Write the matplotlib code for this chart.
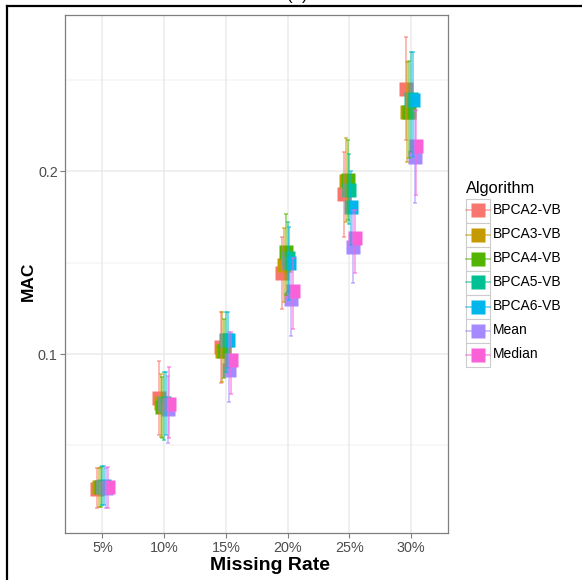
import matplotlib
matplotlib.use("Agg")
import matplotlib.pyplot as plt
from matplotlib.patches import Rectangle
from matplotlib.lines import Line2D
import numpy as np

plt.rcParams['font.family'] = ['Liberation Sans', 'DejaVu Sans']

rates = ["5%", "10%", "15%", "20%", "25%", "30%"]
algorithms = ["BPCA2-VB", "BPCA3-VB", "BPCA4-VB", "BPCA5-VB", "BPCA6-VB", "Mean", "Median"]
colors = ["#F8766D", "#C49A00", "#53B400", "#00C094", "#00B6EB", "#A58AFF", "#FB61D7"]

mac_bpca2 = [0.0259, 0.0761, 0.1037, 0.1444, 0.1875, 0.2453]
low_bpca2 = [0.0155, 0.0556, 0.0840, 0.1246, 0.1642, 0.2174]
high_bpca2 = [0.0374, 0.0962, 0.1232, 0.1642, 0.2105, 0.2734]

mac_bpca3 = [0.0273, 0.0730, 0.1016, 0.1486, 0.1950, 0.2327]
low_bpca3 = [0.0164, 0.0544, 0.0848, 0.1286, 0.1725, 0.2053]
high_bpca3 = [0.0377, 0.0890, 0.1228, 0.1688, 0.2181, 0.2597]

mac_bpca4 = [0.0273, 0.0711, 0.1016, 0.1558, 0.1953, 0.2325]
low_bpca4 = [0.0164, 0.0538, 0.0867, 0.1323, 0.1734, 0.2072]
high_bpca4 = [0.0383, 0.0872, 0.1192, 0.1765, 0.2172, 0.2605]

mac_bpca5 = [0.0273, 0.0730, 0.1077, 0.1526, 0.1898, 0.2396]
low_bpca5 = [0.0173, 0.0529, 0.0903, 0.1340, 0.1712, 0.2108]
high_bpca5 = [0.0387, 0.0903, 0.1228, 0.1721, 0.2095, 0.2656]

mac_bpca6 = [0.0275, 0.0721, 0.1078, 0.1498, 0.1805, 0.2394]
low_bpca6 = [0.0173, 0.0556, 0.0922, 0.1296, 0.1597, 0.2081]
high_bpca6 = [0.0387, 0.0903, 0.1228, 0.1694, 0.2004, 0.2656]

mac_mean = [0.0265, 0.0697, 0.0912, 0.1301, 0.1586, 0.2077]
low_mean = [0.0155, 0.0514, 0.0739, 0.1099, 0.1387, 0.1825]
high_mean = [0.0377, 0.0880, 0.1122, 0.1451, 0.1789, 0.2330]

mac_median = [0.0272, 0.0728, 0.0969, 0.1345, 0.1637, 0.2139]
low_median = [0.0158, 0.0538, 0.0779, 0.1137, 0.1442, 0.1871]
high_median = [0.0383, 0.0927, 0.1122, 0.1526, 0.1789, 0.2336]

means = [mac_bpca2, mac_bpca3, mac_bpca4, mac_bpca5, mac_bpca6, mac_mean, mac_median]
lows = [low_bpca2, low_bpca3, low_bpca4, low_bpca5, low_bpca6, low_mean, low_median]
highs = [high_bpca2, high_bpca3, high_bpca4, high_bpca5, high_bpca6, high_mean, high_median]

W, H = 582, 580
fig = plt.figure(figsize=(W / 100, H / 100), dpi=100)
pl, pr, pt, pb = 65.4, 448.0, 15.0, 533.0
ax = fig.add_axes([pl / W, 1 - pb / H, (pr - pl) / W, (pb - pt) / H])

xpos = np.arange(len(rates))
ax.set_xlim(-0.6, len(rates) - 0.4)
ax.set_ylim(0.002, 0.2857)

# grid
for yv in [0.05, 0.15, 0.25]:
    ax.axhline(yv, color="#F5F5F5", lw=1.1, zorder=0)
for yv in [0.1, 0.2]:
    ax.axhline(yv, color="#EBEBEB", lw=1.1, zorder=0.5)
for xv in xpos:
    ax.axvline(xv, color="#EBEBEB", lw=1.1, zorder=0.5)

dodge = 0.2
n = len(algorithms)
for i, (m, lo, hi, c) in enumerate(zip(means, lows, highs, colors)):
    off = (i - (n - 1) / 2) * dodge / n
    xs = xpos + off
    m = np.array(m); lo = np.array(lo); hi = np.array(hi)
    ax.plot(xs, m, 's', ms=9.8, color=c, mec='none', zorder=2 + i * 0.01)
    ax.errorbar(xs, m, yerr=[m - lo, hi - m], fmt='none', ecolor=c, alpha=0.6,
                elinewidth=1.2, capsize=1.2, capthick=1.2, zorder=3 + i * 0.01)

ax.set_xticks(xpos)
ax.set_xticklabels(rates)
ax.set_yticks([0.1, 0.2])
ax.set_yticklabels(["0.1", "0.2"])
ax.tick_params(axis='both', length=3.5, width=0.8, color="#7F7F7F",
               labelcolor="#4D4D4D", labelsize=10.4, pad=2)
for s in ax.spines.values():
    s.set_color("#7F7F7F")
    s.set_linewidth(0.9)

fig.text(270 / W, 1 - 566 / H, "Missing Rate", fontsize=14, fontweight='bold',
         ha='center', va='center')
fig.text(28 / W, 1 - 281 / H, "MAC", fontsize=12.5, fontweight='bold',
         ha='center', va='center', rotation=90)

# legend (manual, ggplot style)
kx, ky0, kw, kh = 465.5, 198.5, 24.0, 24.0
fig.text(kx / W, 1 - 188 / H, "Algorithm", fontsize=11.8, ha='left', va='center')
for i, (lab, c) in enumerate(zip(algorithms, colors)):
    top = ky0 + i * kh
    fig.patches.append(Rectangle((kx / W, 1 - (top + kh) / H), kw / W, kh / H,
                                 transform=fig.transFigure, facecolor='white',
                                 edgecolor="#CCCCCC", lw=0.8))
    cy = 1 - (top + kh / 2) / H
    fig.lines.append(Line2D([kx / W, (kx + kw) / W], [cy, cy], transform=fig.transFigure,
                            color=c, alpha=0.6, lw=1.2))
    fig.lines.append(Line2D([(kx + kw / 2) / W], [cy], transform=fig.transFigure,
                            marker='s', ms=9.8, color=c, mec='none', ls='none'))
    fig.text((kx + kw + 3) / W, cy, lab, fontsize=10, ha='left', va='center')

# outer frame (partially visible) and cut-off title
fx, fy = 6.7, 6.3
fig.lines.append(Line2D([fx / W, fx / W], [0, 1 - fy / H], transform=fig.transFigure,
                        color='black', lw=1.6))
fig.lines.append(Line2D([fx / W, 1], [1 - fy / H, 1 - fy / H], transform=fig.transFigure,
                        color='black', lw=1.6))
fig.text(297 / W, 1 - 3 / H, "(a)", fontsize=12, ha='center', va='bottom')

fig.savefig("out.png", dpi=100)
